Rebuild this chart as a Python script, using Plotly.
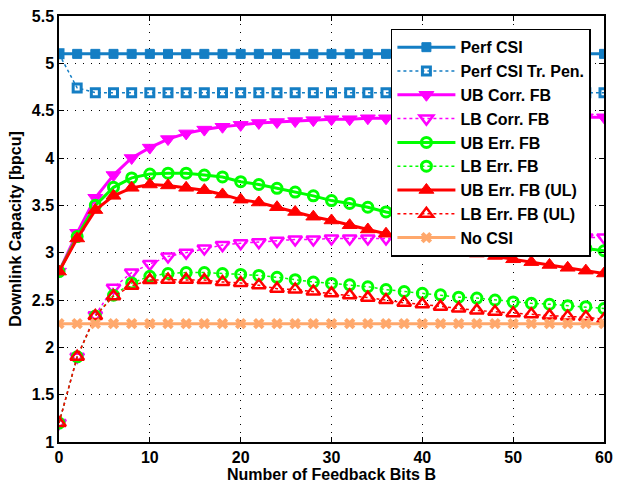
import plotly.graph_objects as go

B = [0, 2, 4, 6, 8, 10, 12, 14, 16, 18, 20, 22, 24, 26, 28, 30,
     32, 34, 36, 38, 40, 42, 44, 46, 48, 50, 52, 54, 56, 58, 60]

perf_csi = [5.10, 5.10, 5.10, 5.10, 5.10, 5.10, 5.10, 5.10, 5.10, 5.10, 5.10,
            5.10, 5.10, 5.10, 5.10, 5.10, 5.10, 5.10, 5.10, 5.10, 5.10, 5.10,
            5.10, 5.10, 5.10, 5.10, 5.10, 5.10, 5.10, 5.10, 5.10]
perf_csi_tp = [5.10, 4.74, 4.69, 4.69, 4.69, 4.69, 4.69, 4.69, 4.69, 4.69, 4.69,
               4.69, 4.69, 4.69, 4.69, 4.69, 4.69, 4.69, 4.69, 4.69, 4.69, 4.69,
               4.69, 4.69, 4.69, 4.69, 4.69, 4.69, 4.69, 4.69, 4.69]
ub_corr = [2.80, 3.21, 3.58, 3.82, 4.00, 4.11, 4.20, 4.26, 4.30, 4.33, 4.35,
           4.37, 4.38, 4.39, 4.40, 4.41, 4.41, 4.42, 4.42, 4.42, 4.42, 4.42,
           4.43, 4.43, 4.43, 4.43, 4.43, 4.43, 4.43, 4.43, 4.43]
lb_corr = [1.20, 1.90, 2.34, 2.63, 2.79, 2.88, 2.96, 3.00, 3.045, 3.08, 3.10,
           3.11, 3.125, 3.14, 3.14, 3.15, 3.15, 3.15, 3.15, 3.15, 3.16, 3.16,
           3.16, 3.16, 3.16, 3.16, 3.16, 3.16, 3.16, 3.16, 3.16]
ub_err = [2.80, 3.17, 3.50, 3.69, 3.79, 3.83, 3.84, 3.84, 3.82, 3.80, 3.75,
          3.72, 3.68, 3.64, 3.60, 3.55, 3.52, 3.48, 3.43, 3.39, 3.35, 3.31,
          3.27, 3.23, 3.19, 3.155, 3.12, 3.09, 3.06, 3.045, 3.02]
lb_err = [1.20, 1.90, 2.33, 2.55, 2.68, 2.75, 2.78, 2.79, 2.79, 2.78, 2.77,
          2.76, 2.74, 2.715, 2.69, 2.675, 2.66, 2.64, 2.61, 2.59, 2.57, 2.555,
          2.53, 2.52, 2.50, 2.48, 2.465, 2.455, 2.44, 2.43, 2.41]
ub_err_ul = [2.80, 3.15, 3.45, 3.60, 3.685, 3.72, 3.71, 3.685, 3.66, 3.615, 3.56,
             3.53, 3.48, 3.43, 3.38, 3.34, 3.29, 3.245, 3.20, 3.15, 3.10, 3.055,
             3.02, 2.99, 2.965, 2.93, 2.90, 2.87, 2.84, 2.81, 2.78]
lb_err_ul = [1.20, 1.90, 2.33, 2.54, 2.65, 2.71, 2.715, 2.715, 2.71, 2.69, 2.68,
             2.655, 2.62, 2.61, 2.59, 2.57, 2.55, 2.525, 2.50, 2.47, 2.455, 2.43,
             2.41, 2.39, 2.375, 2.36, 2.35, 2.335, 2.325, 2.32, 2.295]
no_csi = [2.25, 2.25, 2.25, 2.25, 2.25, 2.25, 2.25, 2.25, 2.25, 2.25, 2.25,
          2.25, 2.25, 2.25, 2.25, 2.25, 2.25, 2.25, 2.25, 2.25, 2.25, 2.25,
          2.25, 2.25, 2.25, 2.25, 2.25, 2.25, 2.25, 2.25, 2.25]

x_ticks = [0, 10, 20, 30, 40, 50, 60]
y_ticks = [1, 1.5, 2, 2.5, 3, 3.5, 4, 4.5, 5, 5.5]
y_tick_labels = ["1", "1.5", "2", "2.5", "3", "3.5", "4", "4.5", "5", "5.5"]

BLUE = "rgb(20,126,196)"
MAG = "rgb(255,0,255)"
GRN = "rgb(0,255,0)"
RED = "rgb(255,0,0)"
ORG = "rgb(255,168,108)"

series = [
    ("Perf CSI", perf_csi, BLUE, "solid", 3, "square", 9, 1),
    ("Perf CSI Tr. Pen.", perf_csi_tp, BLUE, "dot", 1.5, "square-open", 8, 3),
    ("UB Corr. FB", ub_corr, MAG, "solid", 3, "triangle-down", 13, 1),
    ("LB Corr. FB", lb_corr, MAG, "dot", 1.5, "triangle-down-open", 12, 2.5),
    ("UB Err. FB", ub_err, GRN, "solid", 3, "circle-open", 10, 3),
    ("LB Err. FB", lb_err, GRN, "dot", 1.5, "circle-open", 10, 3),
    ("UB Err. FB (UL)", ub_err_ul, RED, "solid", 3, "triangle-up", 13, 1),
    ("LB Err. FB (UL)", lb_err_ul, RED, "dot", 1.5, "triangle-up-open", 12, 2.5),
    ("No CSI", no_csi, ORG, "solid", 3, "x", 10, 0),
]

FONT = "Liberation Sans, Arial"

fig = go.Figure()
for name, ys, col, dash, lw, sym, ms, mlw in series:
    fig.add_trace(go.Scatter(
        x=B, y=ys, name=name, mode="lines+markers",
        line=dict(color=col, width=lw, dash=dash),
        marker=dict(symbol=sym, size=ms, color=col,
                    line=dict(color=col, width=mlw)),
    ))

axis_common = dict(
    showline=True, linecolor="black", linewidth=1.5, mirror="ticks",
    ticks="inside", ticklen=5, tickcolor="black",
    showgrid=True, gridcolor="black", gridwidth=1, griddash="1px,7px",
    zeroline=False,
    tickfont=dict(size=16, color="black", family=FONT, weight="bold"),
)

fig.update_xaxes(range=[0, 60], tickvals=x_ticks,
                 title=dict(text="Number of Feedback Bits B", standoff=3,
                            font=dict(size=16, color="black", family=FONT, weight="bold")),
                 **axis_common)
fig.update_yaxes(range=[1, 5.5], tickvals=y_ticks, ticktext=y_tick_labels,
                 title=dict(text="Downlink Capacity [bpcu]", standoff=6,
                            font=dict(size=16, color="black", family=FONT, weight="bold")),
                 **axis_common)

fig.update_layout(
    width=621, height=488,
    margin=dict(l=59, r=10, t=8, b=45),
    paper_bgcolor="white", plot_bgcolor="white",
    font=dict(family=FONT, size=16, color="black", weight="bold"),
    showlegend=True,
    legend=dict(x=0.609, y=0.97, xanchor="left", yanchor="top",
                bgcolor="white", bordercolor="black", borderwidth=1.5,
                font=dict(size=16, color="black", family=FONT, weight="bold"),
                tracegroupgap=0, itemwidth=58),
)

fig.write_html("out.html")
